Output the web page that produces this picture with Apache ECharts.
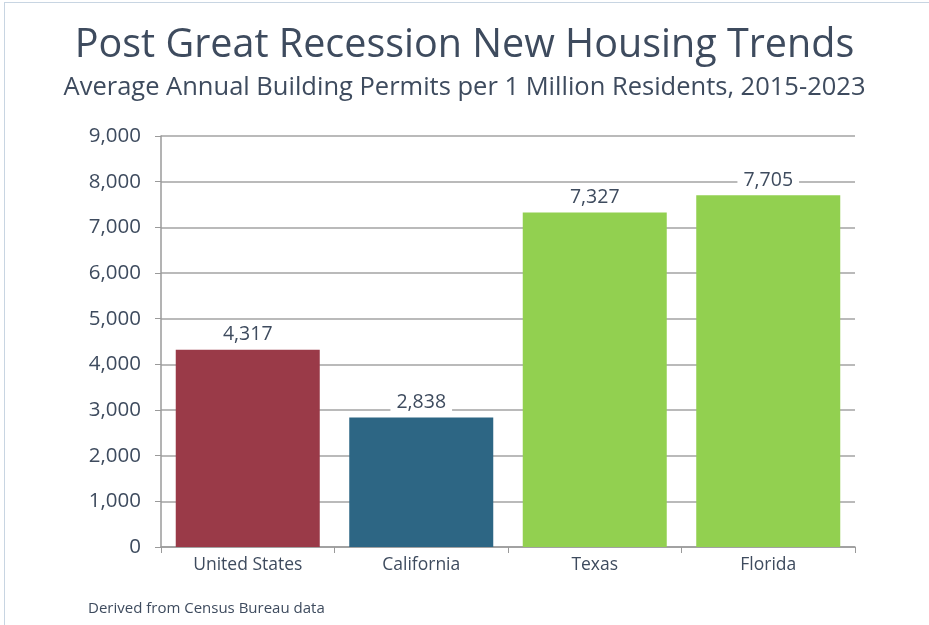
<!DOCTYPE html>
<html lang="en">
<head>
    <meta charset="UTF-8">
    <title>Post Great Recession New Housing Trends</title>
    <script src="https://cdn.jsdelivr.net/npm/echarts@6/dist/echarts.min.js"></script>
    <style>
        html, body { margin: 0; padding: 0; background: #fff; }
        #main { width: 929px; height: 625px; }
        #frame { position: absolute; left: 4px; top: 2px; width: 940px; height: 640px;
                 border-top: 1px solid #c8d5e2; border-left: 1px solid #c8d5e2; pointer-events: none; }
    </style>
</head>
<body>
<div id="main"></div>
<div id="frame"></div>
<script type="text/javascript">
    var categories = ['United States', 'California', 'Texas', 'Florida'];
    var permits = [4317, 2838, 7327, 7705];
    var barColors = ['#9a3a48', '#2d6684', '#92d050', '#92d050'];
    var yTicks = [0, 1000, 2000, 3000, 4000, 5000, 6000, 7000, 8000, 9000];

    var textColor = '#3e4b5e';
    var fontName = '"Open Sans", Lato, sans-serif';

    var myChart = echarts.init(document.getElementById('main'));

    var option = {
        backgroundColor: '#fff',
        title: [
            {
                text: 'Post Great Recession New Housing Trends',
                left: 'center',
                top: 21,
                textStyle: { color: textColor, fontSize: 39.5, fontWeight: 'normal', fontFamily: fontName }
            },
            {
                text: 'Average Annual Building Permits per 1 Million Residents, 2015-2023',
                left: 'center',
                top: 70,
                textStyle: { color: textColor, fontSize: 25.5, fontWeight: 'normal', fontFamily: fontName }
            },
            {
                text: 'Derived from Census Bureau data',
                left: 83,
                top: 596,
                textStyle: { color: textColor, fontSize: 15, fontWeight: 'normal', fontFamily: fontName }
            }
        ],
        grid: { left: 161, right: 74, top: 136, bottom: 78 },
        xAxis: {
            type: 'category',
            data: categories,
            axisLine: { lineStyle: { color: '#9a9a9a', width: 1.5 } },
            axisTick: { show: true, length: 6, lineStyle: { color: '#9a9a9a' } },
            axisLabel: { color: textColor, fontSize: 17.5, fontFamily: fontName, margin: 9 }
        },
        yAxis: {
            type: 'value',
            min: yTicks[0],
            max: yTicks[yTicks.length - 1],
            interval: yTicks[1] - yTicks[0],
            axisLine: { show: true, lineStyle: { color: '#9a9a9a', width: 1.5 } },
            axisTick: { show: true, length: 6, lineStyle: { color: '#9a9a9a' } },
            splitLine: { lineStyle: { color: '#a3a3a3', width: 1.5 } },
            axisLabel: {
                color: textColor, fontSize: 20.5, fontFamily: fontName, margin: 20,
                formatter: function (v) { return v.toLocaleString('en-US'); }
            }
        },
        series: [{
            type: 'bar',
            barCategoryGap: '17%',
            data: permits.map(function (v, i) {
                return { value: v, itemStyle: { color: barColors[i] } };
            }),
            label: {
                show: true,
                position: 'top',
                distance: 5,
                color: textColor,
                fontSize: 19.5,
                fontFamily: fontName,
                backgroundColor: '#fff',
                padding: [0, 6, 0, 6],
                formatter: function (p) { return p.value.toLocaleString('en-US'); }
            }
        }]
    };

    myChart.setOption(option);
</script>
</body>
</html>
